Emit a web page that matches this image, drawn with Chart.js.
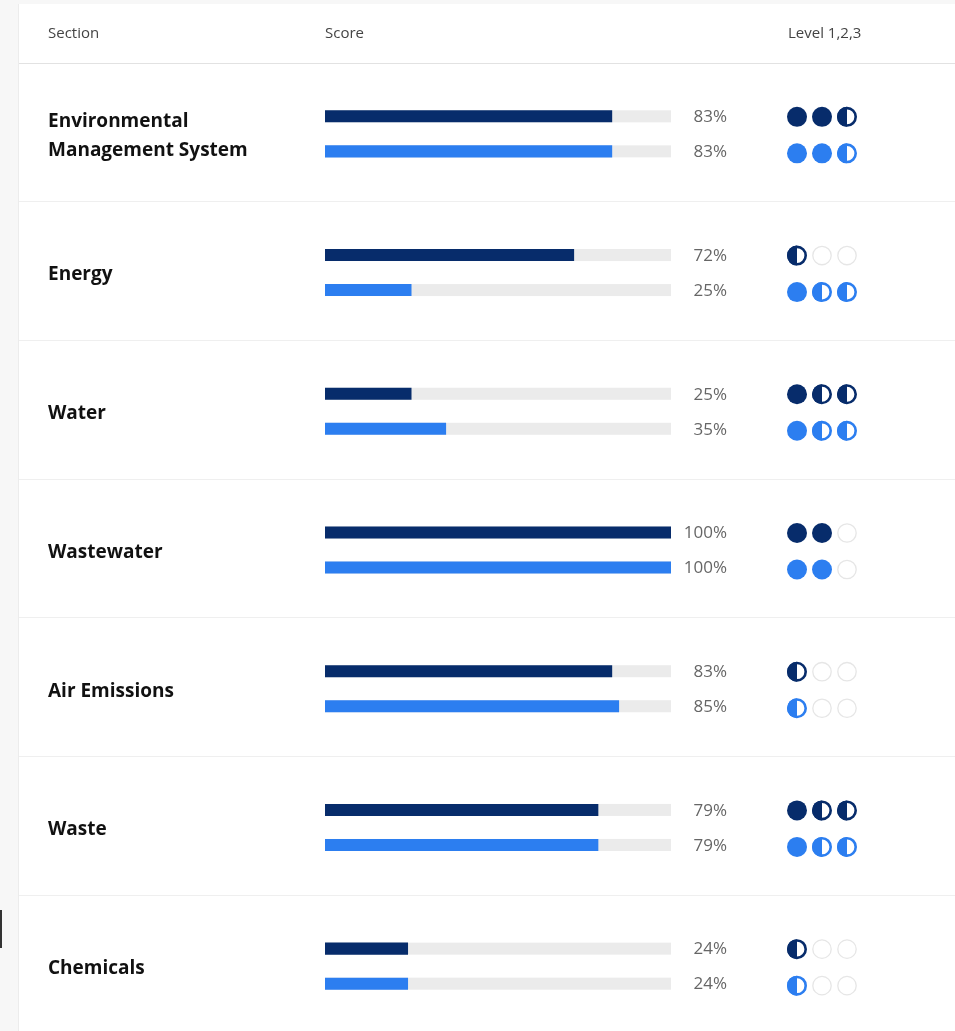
<!DOCTYPE html>
<html lang="en">
<head>
<meta charset="utf-8"/>
<title>Section Scores</title>
<script src="https://cdn.jsdelivr.net/npm/chart.js"></script>
<style>
  html, body { margin: 0; padding: 0; background: #f7f7f7; overflow: hidden; }
  .wrap { position: relative; width: 955px; height: 1040px; }
  .mark { position: absolute; left: 0; top: 910px; width: 2px; height: 38px; background: #333; }
</style>
</head>
<body>
<div class="wrap">
  <canvas id="scoreChart"></canvas>
  <div class="mark"></div>
</div>
<script>
// data
const sections = [
  ['Environmental', 'Management System'],
  ['Energy'],
  ['Water'],
  ['Wastewater'],
  ['Air Emissions'],
  ['Waste'],
  ['Chemicals']
];
const scoreDark  = [83, 72, 25, 100, 83, 79, 24];
const scoreLight = [83, 25, 35, 100, 85, 79, 24];
// 2 = full, 1 = half, 0 = empty
const levelDark  = [[2,2,1], [1,0,0], [2,1,1], [2,2,0], [1,0,0], [2,1,1], [1,0,0]];
const levelLight = [[2,2,1], [2,1,1], [2,1,1], [2,2,0], [1,0,0], [2,1,1], [1,0,0]];
const headers = ['Section', 'Score', 'Level 1,2,3'];

const DARK = '#072c6b';
const LIGHT = '#2c7ef0';
const FONT = '"Open Sans", "Noto Sans", sans-serif';

function drawDot(ctx, x, y, r, state, color) {
  if (state === 2) {
    ctx.beginPath();
    ctx.arc(x, y, r, 0, Math.PI * 2);
    ctx.fillStyle = color;
    ctx.fill();
  } else if (state === 1) {
    ctx.beginPath();
    ctx.arc(x, y, r - 1, 0, Math.PI * 2);
    ctx.fillStyle = '#fff';
    ctx.fill();
    ctx.beginPath();
    ctx.arc(x, y, r, Math.PI / 2, Math.PI * 1.5);
    ctx.closePath();
    ctx.fillStyle = color;
    ctx.fill();
    ctx.beginPath();
    ctx.arc(x, y, r - 1.3, 0, Math.PI * 2);
    ctx.lineWidth = 2.6;
    ctx.strokeStyle = color;
    ctx.stroke();
  } else {
    ctx.beginPath();
    ctx.arc(x, y, r - 0.8, 0, Math.PI * 2);
    ctx.lineWidth = 1.3;
    ctx.strokeStyle = '#e6e6e6';
    ctx.stroke();
  }
}

const tablePlugin = {
  id: 'table',
  beforeDraw(chart) {
    const ctx = chart.ctx;
    const W = chart.width, H = chart.height;
    const y = chart.scales.y;
    ctx.save();
    ctx.fillStyle = '#f7f7f7';
    ctx.fillRect(0, 0, W, H);
    ctx.fillStyle = '#ffffff';
    ctx.fillRect(18, 4, W - 18, H);
    ctx.fillStyle = '#ececec';
    ctx.fillRect(18, 4, 1, H);

    // header
    ctx.font = '15px ' + FONT;
    ctx.fillStyle = '#444';
    ctx.textBaseline = 'middle';
    ctx.textAlign = 'left';
    ctx.fillText(headers[0], 48, 34);
    ctx.fillText(headers[1], 325, 34);
    ctx.fillText(headers[2], 788, 34);
    ctx.fillStyle = '#e2e2e2';
    ctx.fillRect(19, 63, W - 19, 1);

    // row separators
    ctx.fillStyle = '#efefef';
    for (let i = 1; i < sections.length; i++) {
      const b = (y.getPixelForValue(i - 1) + y.getPixelForValue(i)) / 2;
      ctx.fillRect(19, Math.round(b) - 2, W - 19, 1);
    }

    // section labels
    ctx.font = 'bold 19px ' + FONT;
    ctx.fillStyle = '#111';
    sections.forEach((lines, i) => {
      const cy = y.getPixelForValue(i) + 2.5;
      const lh = 29;
      lines.forEach((t, k) => {
        ctx.fillText(t, 48, cy + (k - (lines.length - 1) / 2) * lh);
      });
    });
    ctx.restore();
  },
  beforeDatasetsDraw(chart) {
    const ctx = chart.ctx;
    const x = chart.scales.x;
    const x0 = x.getPixelForValue(0), x1 = x.getPixelForValue(100);
    ctx.save();
    ctx.fillStyle = '#ebebeb';
    chart.data.datasets.forEach((ds, di) => {
      chart.getDatasetMeta(di).data.forEach(el => {
        ctx.fillRect(x0, el.y - el.height / 2, x1 - x0, el.height);
      });
    });
    ctx.restore();
  },
  afterDatasetsDraw(chart) {
    const ctx = chart.ctx;
    ctx.save();
    const levels = [levelDark, levelLight];
    const colors = [DARK, LIGHT];
    chart.data.datasets.forEach((ds, di) => {
      chart.getDatasetMeta(di).data.forEach((el, i) => {
        ctx.font = '17px ' + FONT;
        ctx.fillStyle = '#666';
        ctx.textAlign = 'right';
        ctx.textBaseline = 'middle';
        ctx.fillText(ds.data[i] + '%', 727, el.y + 1);
        levels[di][i].forEach((s, k) => {
          drawDot(ctx, 797 + k * 25, el.y + 0.5 + di * 1.5, 10, s, colors[di]);
        });
      });
    });
    ctx.restore();
  }
};

Chart.defaults.font.family = FONT;

new Chart(document.getElementById('scoreChart'), {
  type: 'bar',
  data: {
    labels: sections.map(s => s.join(' ')),
    datasets: [
      { label: 'Score', data: scoreDark, backgroundColor: DARK },
      { label: 'Score (2)', data: scoreLight, backgroundColor: LIGHT }
    ]
  },
  options: {
    indexAxis: 'y',
    responsive: true,
    maintainAspectRatio: false,
    animation: false,
    events: [],
    layout: { padding: { left: 325, right: 284, top: 64.5, bottom: 4.5 } },
    datasets: { bar: { categoryPercentage: 0.505, barPercentage: 0.343, borderWidth: 0 } },
    scales: {
      x: { min: 0, max: 100, display: false },
      y: { display: false }
    },
    plugins: {
      legend: { display: false },
      tooltip: { enabled: false }
    }
  },
  plugins: [tablePlugin]
});
</script>
</body>
</html>
